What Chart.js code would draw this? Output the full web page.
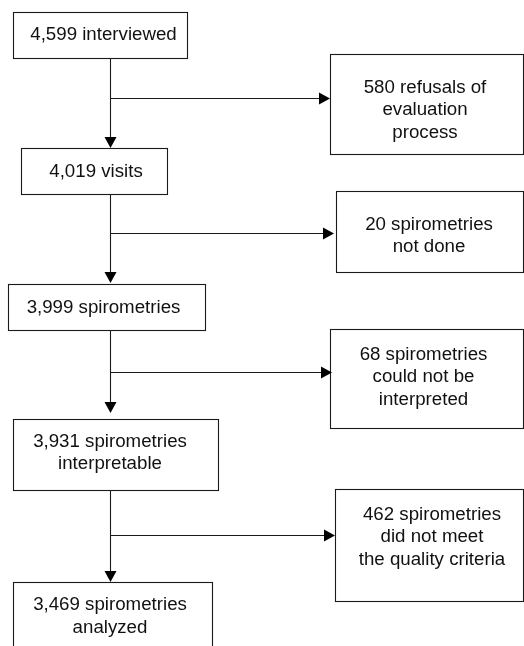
<!DOCTYPE html>
<html>
<head>
<meta charset="utf-8">
<script src="https://cdn.jsdelivr.net/npm/chart.js@4"></script>
<style>
  html, body { margin: 0; padding: 0; background: #fff; }
  #wrap { width: 524px; height: 646px; }
</style>
</head>
<body>
<div id="wrap"><canvas id="c" width="524" height="646"></canvas></div>
<script>
// ---- data ----
const stageCounts = [4599, 4019, 3999, 3931, 3469];
const stageLabels = ['interviewed', 'visits', 'spirometries', 'spirometries\ninterpretable', 'spirometries\nanalyzed'];
const exclusionCounts = [580, 20, 68, 462];
const exclusionLabels = ['refusals of\nevaluation\nprocess', 'spirometries\nnot done', 'spirometries\ncould not be\ninterpreted', 'spirometries\ndid not meet\nthe quality criteria'];

// ---- layout (axis units) ----
const stageBoxes = [
  {x0: 13, x1: 187, y0: 12, y1: 58, tx: 103.5, ty: 34.5},
  {x0: 21, x1: 167, y0: 148, y1: 194, tx: 96, ty: 172},
  {x0: 8, x1: 205, y0: 284, y1: 330, tx: 103.5, ty: 308},
  {x0: 13, x1: 218, y0: 419, y1: 490, tx: 110, ty: 453},
  {x0: 13, x1: 212, y0: 582, y1: 660, tx: 110, ty: 616.5}
];
const exclusionBoxes = [
  {x0: 330, x1: 523, y0: 54, y1: 154, tx: 425, ty: 110},
  {x0: 336, x1: 523, y0: 191, y1: 272, tx: 429, ty: 236},
  {x0: 330, x1: 523, y0: 329, y1: 428, tx: 423.5, ty: 377},
  {x0: 335, x1: 523, y0: 489, y1: 601, tx: 432, ty: 537}
];
const spineX = 109.5;
const branchY = [98, 233, 372, 535];
const downTipY = [148, 283, 413, 582];
const sideTipX = [330, 334, 332, 335];

function fmt(n) { return n.toLocaleString('en-US'); }
function boxText(count, label) {
  const lines = label.split('\n');
  lines[0] = fmt(count) + ' ' + lines[0];
  return lines;
}

const flowPlugin = {
  id: 'flow',
  afterDatasetsDraw(chart) {
    const ctx = chart.ctx;
    const X = v => chart.scales.x.getPixelForValue(v);
    const Y = v => chart.scales.y.getPixelForValue(v);
    const crisp = p => Math.round(p) + 0.5;
    ctx.save();
    ctx.strokeStyle = '#1a1a1a';
    ctx.lineWidth = 1.1;

    function drawBox(b, lines) {
      const x0 = crisp(X(b.x0)), x1 = crisp(X(b.x1));
      const y0 = crisp(Y(b.y0)), y1 = crisp(Y(b.y1));
      ctx.strokeRect(x0, y0, x1 - x0, y1 - y0);
      ctx.fillStyle = '#111';
      ctx.font = '18.7px "Liberation Sans", Arial, sans-serif';
      ctx.textAlign = 'center';
      ctx.textBaseline = 'middle';
      const cx = X(b.tx);
      const lh = 22.5;
      const n = lines.length;
      lines.forEach((t, i) => {
        ctx.fillText(t, cx, Y(b.ty) + (i - (n - 1) / 2) * lh);
      });
    }
    stageBoxes.forEach((b, i) => drawBox(b, boxText(stageCounts[i], stageLabels[i])));
    exclusionBoxes.forEach((b, i) => drawBox(b, boxText(exclusionCounts[i], exclusionLabels[i])));

    // connectors
    ctx.fillStyle = '#000';
    const sx = crisp(X(spineX));
    for (let i = 0; i < downTipY.length; i++) {
      const yStart = Y(stageBoxes[i].y1);
      const tip = Y(downTipY[i]);
      ctx.beginPath();
      ctx.moveTo(sx, yStart);
      ctx.lineTo(sx, tip - 10);
      ctx.stroke();
      ctx.beginPath();
      ctx.moveTo(sx - 6, tip - 11);
      ctx.lineTo(sx + 6, tip - 11);
      ctx.lineTo(sx, tip);
      ctx.closePath();
      ctx.fill();
      // side branch
      const by = crisp(Y(branchY[i]));
      const stip = X(sideTipX[i]);
      ctx.beginPath();
      ctx.moveTo(sx, by);
      ctx.lineTo(stip - 10, by);
      ctx.stroke();
      ctx.beginPath();
      ctx.moveTo(stip - 11, by - 6);
      ctx.lineTo(stip - 11, by + 6);
      ctx.lineTo(stip, by);
      ctx.closePath();
      ctx.fill();
    }
    ctx.restore();
  }
};

new Chart(document.getElementById('c'), {
  type: 'scatter',
  data: {
    datasets: [
      {
        label: 'Stages',
        data: stageCounts.map((v, i) => ({x: stageBoxes[i].tx, y: stageBoxes[i].ty, n: v})),
        pointRadius: 0
      },
      {
        label: 'Exclusions',
        data: exclusionCounts.map((v, i) => ({x: exclusionBoxes[i].tx, y: exclusionBoxes[i].ty, n: v})),
        pointRadius: 0
      }
    ]
  },
  options: {
    responsive: false,
    devicePixelRatio: 1,
    animation: false,
    layout: { padding: 0 },
    plugins: { legend: { display: false }, tooltip: { enabled: false } },
    scales: {
      x: { type: 'linear', min: 0, max: 524, display: false },
      y: { type: 'linear', min: 0, max: 646, reverse: true, display: false }
    }
  },
  plugins: [flowPlugin]
});
</script>
</body>
</html>
